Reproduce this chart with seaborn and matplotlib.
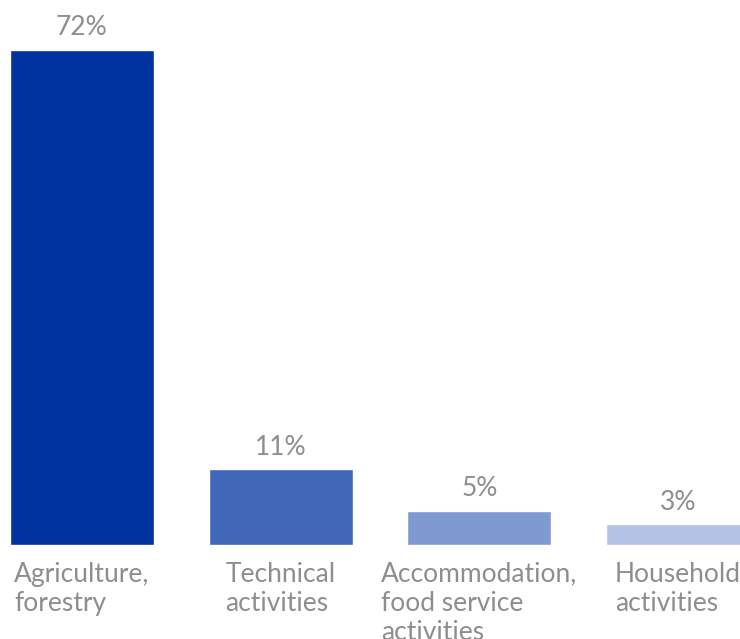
import matplotlib
matplotlib.use("Agg")
import matplotlib.pyplot as plt
import seaborn as sns
import pandas as pd

categories = ["Agriculture,\nforestry", "Technical\nactivities",
              "Accommodation,\nfood service\nactivities", "Household\nactivities"]
shares = [72, 11, 5, 3]
bar_colors = ["#0033A0", "#4168B8", "#7F9AD1", "#B3C3E4"]

text_gray = "#8E8E8E"

sns.set_theme(style="white")
plt.rcParams["font.family"] = ["Lato", "DejaVu Sans"]

df = pd.DataFrame({"category": categories, "share": shares})

fig = plt.figure(figsize=(7.40, 6.39), dpi=100)
ax = fig.add_axes([0, 94 / 639, 1, 545 / 639])

sns.barplot(data=df, x="category", y="share", hue="category",
            palette=bar_colors, width=0.724, legend=False, saturation=1,
            ax=ax)

for container in ax.containers:
    ax.bar_label(container, labels=[f"{int(v)}%" for v in container.datavalues],
                 padding=7, fontsize=19, color=text_gray)

ax.set_xlim(-0.412, 3.312)
ax.set_ylim(0, 79.3)
ax.set_xlabel("")
ax.set_ylabel("")
ax.set_yticks([])
ax.tick_params(axis="x", length=0, pad=12, labelsize=19, labelcolor=text_gray)
for lbl in ax.get_xticklabels():
    lbl.set_multialignment("left")
    lbl.set_linespacing(1.2)
for side in ax.spines.values():
    side.set_visible(False)

fig.savefig("out.png", dpi=100)
